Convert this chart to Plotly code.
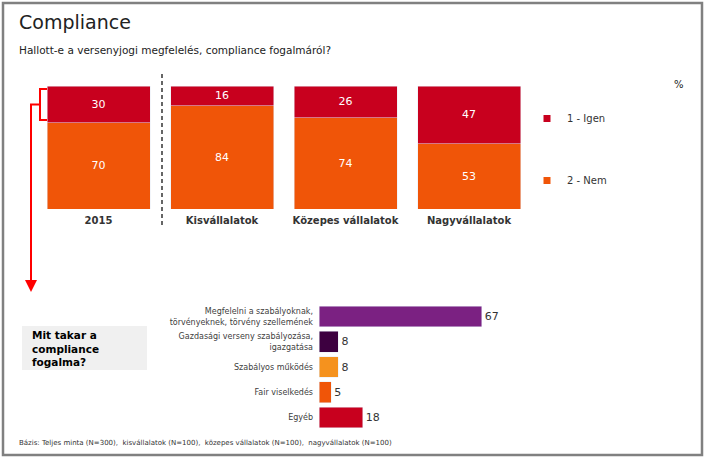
import plotly.graph_objects as go

W, H = 705, 460

def X(px):
    return px / W

def Y(py):
    return 1 - py / H

# ---------------- data ----------------
groups = ["2015", "Kisvállalatok", "Közepes vállalatok", "Nagyvállalatok"]
igen = [30, 16, 26, 47]
nem = [70, 84, 74, 53]
series_names = ["1 - Igen", "2 - Nem"]

meaning_labels = [
    "Megfelelni a szabályoknak,<br>törvényeknek, törvény szellemének",
    "Gazdasági verseny szabályozása,<br>igazgatása",
    "Szabályos működés",
    "Fair viselkedés",
    "Egyéb",
]
meaning_values = [67, 8, 8, 5, 18]

C_IGEN = "#C8001E"
C_NEM = "#F05508"
meaning_colors = ["#7B2182", "#3D0040", "#F5921E", "#F05508", "#C8001E"]

FONT = "DejaVu Sans"

fig = go.Figure()

# top stacked bars
fig.add_trace(go.Bar(
    x=groups, y=nem, name=series_names[1], marker_color=C_NEM,
    text=nem, textposition="inside", insidetextanchor="middle",
    textfont=dict(color="white", size=11, family=FONT),
    showlegend=False, xaxis="x", yaxis="y", hoverinfo="skip",
))
fig.add_trace(go.Bar(
    x=groups, y=igen, name=series_names[0], marker_color=C_IGEN,
    text=igen, textposition="inside", insidetextanchor="middle",
    textfont=dict(color="white", size=11, family=FONT),
    showlegend=False, xaxis="x", yaxis="y", hoverinfo="skip",
))

# legend-only markers (small squares)
fig.add_trace(go.Scatter(
    x=[None], y=[None], mode="markers", name=series_names[0],
    marker=dict(symbol="square", size=7, color=C_IGEN),
    legendgroup="a", xaxis="x3", yaxis="y3",
))
fig.add_trace(go.Scatter(
    x=[None], y=[None], mode="markers", name=series_names[1],
    marker=dict(symbol="square", size=7, color=C_NEM),
    legendgroup="b", xaxis="x3", yaxis="y3",
))

# bottom horizontal bars
fig.add_trace(go.Bar(
    y=meaning_labels, x=meaning_values, orientation="h",
    marker_color=meaning_colors, text=meaning_values, textposition="outside",
    textfont=dict(color="#333333", size=11, family=FONT),
    cliponaxis=False, showlegend=False, xaxis="x2", yaxis="y2", hoverinfo="skip",
    width=0.83,
))

fig.update_layout(
    width=W, height=H,
    margin=dict(l=0, r=0, t=0, b=0),
    paper_bgcolor="white", plot_bgcolor="white",
    font=dict(family=FONT, color="#333333"),
    barmode="stack", bargap=0.166,
    xaxis=dict(domain=[X(36.75), X(530.75)], showgrid=False, zeroline=False,
               showline=False, ticks="", tickmode="array", tickvals=groups,
               ticktext=["<b>%s</b>" % g for g in groups],
               ticklabelstandoff=4,
               tickfont=dict(size=10, color="#333333", family=FONT),
               fixedrange=True, anchor="y"),
    yaxis=dict(domain=[Y(209), Y(86)], range=[0, 100], visible=False,
               fixedrange=True, anchor="x"),
    xaxis2=dict(domain=[X(319), X(319 + 243)], range=[0, 100], visible=False,
                fixedrange=True, anchor="y2"),
    yaxis2=dict(domain=[Y(430.1), Y(303.9)], autorange="reversed",
                showgrid=False, zeroline=False, showline=False, ticks="",
                ticklabelstandoff=5,
                tickfont=dict(size=8, color="#404040", family=FONT),
                fixedrange=True, anchor="x2"),
    xaxis3=dict(domain=[0.98, 0.99], visible=False),
    yaxis3=dict(domain=[0.98, 0.99], visible=False),
    legend=dict(x=X(527), y=Y(104), xanchor="left", yanchor="top",
                traceorder="grouped", tracegroupgap=43,
                font=dict(size=10, color="#333333", family=FONT),
                itemwidth=30, bgcolor="rgba(0,0,0,0)"),
)

shapes = []
# outer frame
shapes.append(dict(type="rect", xref="paper", yref="paper",
                   x0=X(3), x1=X(702), y0=Y(455), y1=Y(3),
                   line=dict(color="#808080", width=2.5)))
# dashed divider
shapes.append(dict(type="line", xref="paper", yref="paper",
                   x0=X(162), x1=X(162), y0=Y(74), y1=Y(225),
                   line=dict(color="#000000", width=1.2, dash="4px,3px")))
# grey box
shapes.append(dict(type="rect", xref="paper", yref="paper",
                   x0=X(22), x1=X(147), y0=Y(370), y1=Y(326),
                   fillcolor="#F0F0F0", line=dict(width=0), layer="below"))
# red bracket
shapes.append(dict(type="path", xref="paper", yref="paper",
                   path="M %f %f L %f %f L %f %f L %f %f" % (
                       X(47), Y(89), X(40), Y(89), X(40), Y(120), X(47), Y(120)),
                   line=dict(color="#FF0000", width=2)))
shapes.append(dict(type="path", xref="paper", yref="paper",
                   path="M %f %f L %f %f L %f %f" % (
                       X(40), Y(104.5), X(31), Y(104.5), X(31), Y(285)),
                   line=dict(color="#FF0000", width=2)))
fig.update_layout(shapes=shapes)

annotations = [
    dict(text="Compliance", x=X(17), y=Y(22), xref="paper", yref="paper",
         xanchor="left", yanchor="middle", showarrow=False,
         font=dict(size=19, color="#222222", family=FONT)),
    dict(text="Hallott-e a versenyjogi megfelelés, compliance fogalmáról?",
         x=X(17), y=Y(50), xref="paper", yref="paper",
         xanchor="left", yanchor="middle", showarrow=False,
         font=dict(size=10.5, color="#222222", family=FONT)),
    dict(text="%", x=X(679), y=Y(84), xref="paper", yref="paper",
         xanchor="center", yanchor="middle", showarrow=False,
         font=dict(size=10, color="#222222", family=FONT)),
    dict(text="<b>Mit takar a<br>compliance<br>fogalma?</b>",
         x=X(30), y=Y(348), xref="paper", yref="paper",
         xanchor="left", yanchor="middle", align="left", showarrow=False,
         font=dict(size=10.5, color="#000000", family=FONT)),
    dict(text="Bázis: Teljes minta (N=300),  kisvállalatok (N=100),  közepes vállalatok (N=100),  nagyvállalatok (N=100)",
         x=X(17), y=Y(443), xref="paper", yref="paper",
         xanchor="left", yanchor="middle", showarrow=False,
         font=dict(size=7, color="#333333", family=FONT)),
    # arrow head
    dict(text="", x=X(31), y=Y(292), ax=0, ay=-12, xref="paper", yref="paper",
         showarrow=True, arrowhead=2, arrowsize=1.2,
         arrowwidth=2, arrowcolor="#FF0000"),
]
fig.update_layout(annotations=annotations)

fig.write_html("out.html",
               config={"displayModeBar": False, "staticPlot": True},
               post_script="document.body.style.margin='0';document.body.style.padding='0';")
